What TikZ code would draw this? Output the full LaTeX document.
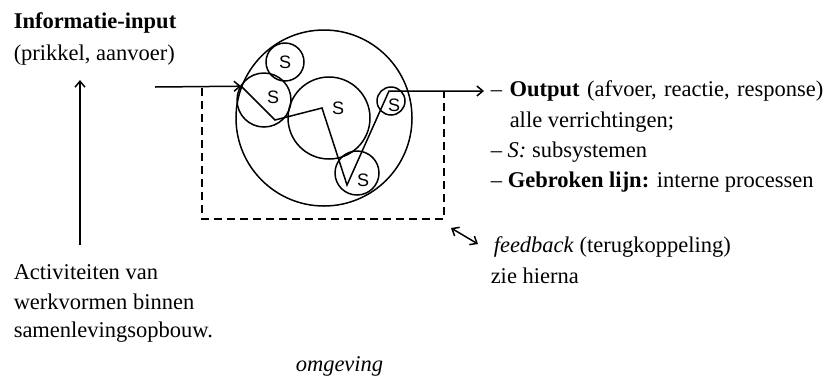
\documentclass[tikz,border=0pt]{standalone}
\usepackage{fontspec}
\setmainfont{Liberation Serif}
\setsansfont{Liberation Sans}
\usetikzlibrary{positioning}
\usetikzlibrary{calc}
\usetikzlibrary{arrows.meta}
\newcommand\ruim{\hspace{0.33em}}
\tikzset{ %Stijlen voor het systeemschema
    subsys/.style={draw,circle,inner sep=0pt,minimum size=#1},
    letter/.style={inner sep=0pt,font=\sffamily\fontsize{18}{18}\selectfont},
    tekst/.style={anchor=base west,inner sep=0pt,font=\fontsize{22.5}{28}\selectfont},
    pijl/.style={-{Straight Barb[length=6pt,width=10pt]}}
}
\begin{document}
\begin{tikzpicture}[x=1pt,y=-1pt,line width=1.5pt]
            \useasboundingbox (0,0) rectangle (834,384);
            % systeem en subsystemen
            \node[subsys=176pt] (sys) at (324,118) {};
            \node[subsys=38pt] (s1) at (285,62) {};
            \node[subsys=54pt] (s2) at (264,100) {};
            \node[subsys=82pt] (s3) at (329,118) {};
            \node[subsys=28pt] (s4) at (391,101) {};
            \node[subsys=44pt] (s5) at (357,173) {};
            \node[letter] (l1) at (285,62) {S};
            \node[letter] (l2) at (273,97) {S};
            \node[letter] (l3) at (338,108) {S};
            \node[letter] (l4) at (394,105) {S};
            \node[letter] (l5) at (363,180) {S};
            % input, interne lijn en output
            \coordinate (in) at (155,87);
            \coordinate (p1) at (275,120);
            \coordinate (p2) at (322,108);
            \coordinate (p3) at (347,185);
            \coordinate (p4) at (389,91);
            \coordinate (uit) at (484,91);
            \draw[pijl] (in) -- (sys.159);
            \draw[pijl] (sys.159) -- (p1) -- (p2) -- (p3) -- (p4) -- (uit);
            % gebroken lijn
            \draw[dashed,dash pattern=on 8pt off 5pt] (202,88) |- (444,219) -- (444,92);
            \coordinate (fb1) at (451,228);
            \coordinate (fb2) at (478,244);
            \draw[{Straight Barb[length=6pt,width=10pt]}-{Straight Barb[length=6pt,width=10pt]}] (fb1) -- (fb2);
            % teksten
            \node[tekst] (info) at (13,28) {\textbf{Informatie-input}};
            \node[tekst] (prikkel) at (13,60) {(prikkel, aanvoer)};
            \node[tekst] (act1) at (13,279) {Activiteiten van};
            \node[tekst] (act2) at (13,309) {werkvormen binnen};
            \node[tekst] (act3) at (13,337) {samenlevingsopbouw.};
            \coordinate (onder) at (80,245);
            \coordinate (boven) at (80,80);
            \draw[pijl] (onder) -- (boven);
            \node[tekst] (out1) at (490,96) {--\ruim\textbf{Output}\ruim(afvoer,\ruim reactie,\ruim response)};
            \node[tekst] (out2) at (509,127) {alle verrichtingen;};
            \node[tekst] (out3) at (490,157) {-- \textit{S:} subsystemen};
            \node[tekst] (out4) at (490,187) {-- \textbf{Gebroken lijn:} interne processen};
            \node[tekst] (fb) at (493,252) {\textit{feedback} (terugkoppeling)};
            \node[tekst] (zie) at (490,283) {zie hierna};
            \node[tekst] (omg) at (295,371) {\textit{omgeving}};
        \end{tikzpicture}
\end{document}
